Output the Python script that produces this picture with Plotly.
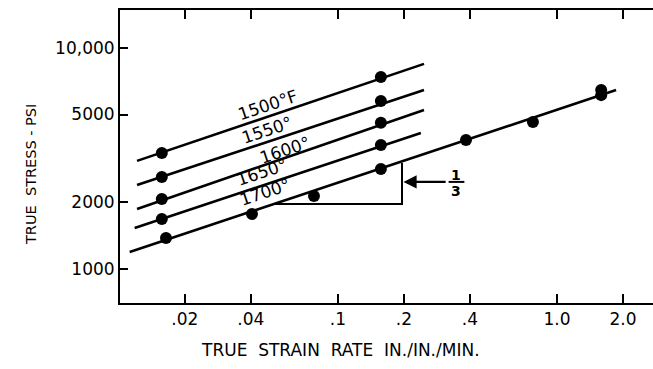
import math
import plotly.graph_objects as go

# ---------------- data ----------------
temp_labels = ["1500°F", "1550°", "1600°", "1650°", "1700°"]

# measured points (strain rate in./in./min., true stress psi)
s1500_x = [0.0157, 0.157]
s1500_y = [3350, 7390]
s1550_x = [0.0157, 0.157]
s1550_y = [2605, 5750]
s1600_x = [0.0157, 0.157]
s1600_y = [2074, 4585]
s1650_x = [0.0157, 0.157]
s1650_y = [1684, 3640]
s1700_x = [0.0164, 0.0405, 0.0777, 0.157, 0.384, 0.776, 1.59, 1.59]
s1700_y = [1381, 1774, 2140, 2834, 3836, 4625, 6450, 6120]

# drawn fit lines (end points)
fit1500_x = [0.0121, 0.247]
fit1500_y = [3085, 8475]
fit1550_x = [0.0121, 0.247]
fit1550_y = [2400, 6455]
fit1600_x = [0.0121, 0.247]
fit1600_y = [1868, 5240]
fit1650_x = [0.0118, 0.239]
fit1650_y = [1534, 4120]
fit1700_x = [0.0112, 1.86]
fit1700_y = [1194, 6450]

# slope triangle
tri_x = [0.0510, 0.196, 0.196]
tri_y = [1968, 1968, 3020]

x_tickvals = [0.02, 0.04, 0.1, 0.2, 0.4, 1.0, 2.0]
x_ticktext = [".02", ".04", ".1", ".2", ".4", "1.0", "2.0"]
y_tickvals = [1000, 2000, 5000, 10000]
y_ticktext = ["1000", "2000", "5000", "10,000"]

FONT = "DejaVu Sans"
BLACK = "black"

# plot-area geometry in pixels (for placing free text)
L, R, T, B = 120, 653, 10, 303


def px_to_paper(px, py):
    return (px - L) / (R - L), (B - py) / (B - T)


fig = go.Figure()

fits = [(fit1500_x, fit1500_y), (fit1550_x, fit1550_y), (fit1600_x, fit1600_y),
        (fit1650_x, fit1650_y), (fit1700_x, fit1700_y)]
for fx, fy in fits:
    fig.add_trace(go.Scatter(x=fx, y=fy, mode="lines",
                             line=dict(color=BLACK, width=2.6),
                             showlegend=False, hoverinfo="skip"))

pts = [(s1500_x, s1500_y), (s1550_x, s1550_y), (s1600_x, s1600_y),
       (s1650_x, s1650_y), (s1700_x, s1700_y)]
for px, py in pts:
    fig.add_trace(go.Scatter(x=px, y=py, mode="markers",
                             marker=dict(color=BLACK, size=12),
                             showlegend=False))

fig.add_trace(go.Scatter(x=tri_x, y=tri_y, mode="lines",
                         line=dict(color=BLACK, width=2),
                         showlegend=False, hoverinfo="skip"))

# fraction bar
fig.add_trace(go.Scatter(x=[10 ** -0.495, 10 ** -0.423], y=[10 ** 3.394, 10 ** 3.394],
                         mode="lines", line=dict(color=BLACK, width=2),
                         showlegend=False, hoverinfo="skip"))

annotations = []
label_pos = [(-1.320, 3.742), (-1.324, 3.629), (-1.242, 3.538),
             (-1.347, 3.439), (-1.333, 3.348)]
for t, (lx, ly) in zip(temp_labels, label_pos):
    annotations.append(dict(x=lx, y=ly, xref="x", yref="y", text=t,
                            showarrow=False, textangle=-18.4,
                            font=dict(family=FONT, size=17, color=BLACK)))

# arrow pointing to the slope triangle
annotations.append(dict(x=math.log10(0.199), y=3.394, xref="x", yref="y",
                        ax=math.log10(0.315), ay=3.394, axref="x", ayref="y",
                        text="", showarrow=True, arrowhead=2, arrowsize=1.1,
                        arrowwidth=2.4, arrowcolor=BLACK))
annotations.append(dict(x=-0.459, y=3.425, xref="x", yref="y", text="<b>1</b>",
                        showarrow=False, font=dict(family=FONT, size=14, color=BLACK)))
annotations.append(dict(x=-0.459, y=3.352, xref="x", yref="y", text="<b>3</b>",
                        showarrow=False, font=dict(family=FONT, size=14, color=BLACK)))

# axis titles
tx, ty = px_to_paper(340, 350)
annotations.append(dict(x=tx, y=ty, xref="paper", yref="paper",
                        xanchor="center", yanchor="middle",
                        text="TRUE  STRAIN  RATE  IN./IN./MIN.", showarrow=False,
                        font=dict(family=FONT, size=17, color=BLACK)))
tx, ty = px_to_paper(31, 175)
annotations.append(dict(x=tx, y=ty, xref="paper", yref="paper",
                        xanchor="center", yanchor="middle",
                        text="TRUE  STRESS - PSI", showarrow=False, textangle=-90,
                        font=dict(family=FONT, size=14.5, color=BLACK)))

fig.update_layout(
    width=653, height=369,
    margin=dict(l=L, r=653 - R, t=T, b=369 - B),
    paper_bgcolor="white", plot_bgcolor="white",
    annotations=annotations,
    font=dict(family=FONT, color=BLACK),
    showlegend=False,
)
fig.update_xaxes(type="log", range=[-1.995, 0.438],
                 tickvals=x_tickvals, ticktext=x_ticktext,
                 ticks="inside", ticklen=9, tickwidth=2, tickcolor=BLACK,
                 showline=True, linecolor=BLACK, linewidth=2, mirror="ticks",
                 showgrid=False, zeroline=False,
                 tickfont=dict(family=FONT, size=17, color=BLACK))
fig.update_yaxes(type="log", range=[2.846, 4.172],
                 tickvals=y_tickvals, ticktext=y_ticktext,
                 ticks="inside", ticklen=8, tickwidth=2, tickcolor=BLACK,
                 showline=True, linecolor=BLACK, linewidth=2, mirror=False,
                 showgrid=False, zeroline=False,
                 tickfont=dict(family=FONT, size=17, color=BLACK))

fig.write_html("out.html")
